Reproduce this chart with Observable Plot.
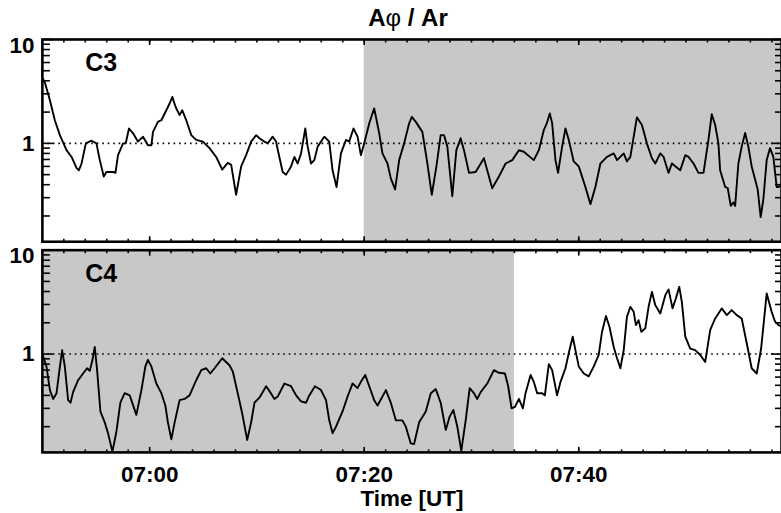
<!DOCTYPE html>
<html>
<head>
<meta charset="utf-8">
<script src="https://cdn.jsdelivr.net/npm/d3@7"></script>
<script src="https://cdn.jsdelivr.net/npm/@observablehq/plot@0.6"></script>
<style>
  html, body { margin: 0; padding: 0; background: #fff; overflow: hidden; }
  #fig { position: relative; width: 781px; height: 513px; font-family: "Liberation Sans", Arial, sans-serif; color: #000; }
  #title { box-sizing: border-box; height: 30px; width: 816px; padding-top: 6px; text-align: center;
           font: bold 24px/24px "Liberation Sans", Arial, sans-serif; white-space: pre; }
  #title .phi { font-weight: normal; }
  #fig svg { display: block; }
</style>
</head>
<body>
<div id="fig">
  <div id="title">A<span class="phi">φ</span> / Ar</div>
</div>
<script>
// Time axis in minutes after 06:00 UT
const timeStart = 50;
const timeEnd = 118.9;

// Panels
const panels = ["C3", "C4"];

// Intervals shaded grey in each panel (minutes after 06:00 UT)
const shadePanel = ["C3", "C4"];
const shadeFrom = [80, timeStart];
const shadeTo = [timeEnd, 94];

// Tick labels
const xTickLabels = ["07:00", "07:20", "07:40"];
const yTickLabels = ["1", "10"];
const yMinorTicks = [0.2, 0.3, 0.4, 0.5, 0.6, 0.7, 0.8, 0.9, 2, 3, 4, 5, 6, 7, 8, 9];

// C3: Aphi / Ar
const c3Time = [50.05, 50.25, 50.70, 51.16, 51.63, 52.25, 52.72, 53.18, 53.40, 53.65, 54.05, 54.58, 55.04, 55.35, 55.72, 55.97, 56.59, 56.81, 57.05, 57.52, 57.77, 58.07, 58.45, 58.91, 59.38, 59.84, 60.16, 60.31, 60.77, 61.09, 61.40, 61.86, 62.11, 62.42, 62.79, 63.04, 63.41, 63.88, 64.34, 64.96, 65.58, 66.20, 66.76, 67.28, 67.60, 68.06, 68.53, 68.99, 69.46, 69.93, 70.23, 70.70, 71.00, 71.47, 71.78, 72.09, 72.40, 72.72, 73.18, 73.49, 73.80, 74.11, 74.51, 74.73, 75.04, 75.35, 75.66, 76.28, 76.74, 77.05, 77.42, 77.83, 78.30, 78.60, 79.00, 79.38, 79.69, 80.00, 80.47, 80.93, 81.40, 81.70, 82.17, 82.48, 82.88, 83.26, 83.72, 84.19, 84.44, 84.81, 85.42, 85.89, 86.30, 86.73, 87.13, 87.44, 87.75, 88.21, 88.59, 88.99, 89.30, 89.77, 90.39, 91.16, 91.93, 92.56, 93.18, 93.80, 94.42, 94.88, 95.81, 96.28, 96.74, 97.02, 97.30, 97.52, 97.83, 98.07, 98.45, 98.76, 99.07, 99.53, 100.00, 100.62, 101.09, 101.55, 102.02, 102.63, 103.26, 103.57, 104.19, 104.49, 104.81, 105.42, 105.89, 106.35, 106.82, 107.13, 107.60, 107.91, 108.37, 108.68, 109.46, 109.93, 110.23, 110.70, 111.16, 111.63, 112.09, 112.40, 112.72, 113.02, 113.18, 113.65, 113.89, 114.17, 114.42, 114.58, 114.88, 115.19, 115.51, 115.81, 116.12, 116.49, 116.68, 116.96, 117.21, 117.52, 117.83, 118.14, 118.45, 118.63, 118.90];
const c3Ratio = [4.2, 3.8, 2.60, 1.67, 1.20, 0.86, 0.74, 0.58, 0.55, 0.64, 1.00, 1.06, 1.00, 0.69, 0.48, 0.53, 0.53, 0.52, 0.77, 1.00, 1.00, 1.39, 1.25, 1.04, 1.16, 0.96, 0.96, 1.29, 1.61, 1.67, 1.94, 2.42, 2.80, 2.24, 1.87, 2.08, 1.67, 1.20, 1.08, 1.04, 0.90, 0.74, 0.56, 0.65, 0.62, 0.32, 0.60, 0.77, 1.04, 1.20, 1.12, 1.04, 1.00, 1.16, 1.04, 0.74, 0.53, 0.50, 0.60, 0.74, 0.64, 0.80, 1.39, 0.93, 0.64, 0.69, 0.93, 1.16, 1.04, 0.55, 0.38, 0.80, 1.08, 1.04, 1.39, 1.16, 0.77, 1.00, 1.56, 2.17, 1.25, 0.80, 0.64, 0.46, 0.36, 0.69, 1.00, 1.56, 1.80, 1.61, 1.29, 0.64, 0.32, 0.60, 1.20, 1.20, 0.93, 0.31, 0.86, 1.12, 0.86, 0.52, 0.53, 0.72, 0.37, 0.48, 0.64, 0.69, 0.86, 0.83, 0.69, 0.86, 1.34, 1.56, 1.94, 1.56, 0.69, 0.52, 0.93, 1.39, 1.08, 0.67, 0.60, 0.38, 0.26, 0.38, 0.64, 0.74, 0.80, 0.69, 0.80, 0.67, 0.74, 1.78, 1.50, 1.00, 0.72, 0.64, 0.80, 0.74, 0.52, 0.64, 0.55, 0.77, 0.74, 0.64, 0.52, 0.52, 1.08, 1.91, 1.50, 1.00, 0.55, 0.38, 0.37, 0.25, 0.27, 0.25, 0.64, 0.93, 1.26, 0.93, 0.60, 0.43, 0.36, 0.195, 0.29, 0.69, 0.90, 0.74, 0.38, 0.38, 0.40];

// C4: Aphi / Ar
const c4Time = [50.00, 50.38, 50.70, 51.00, 51.32, 51.55, 51.84, 52.09, 52.40, 52.62, 52.86, 53.33, 53.79, 54.17, 54.42, 54.67, 54.88, 55.10, 55.41, 55.81, 56.12, 56.53, 56.90, 57.27, 57.67, 58.14, 58.76, 59.23, 59.60, 59.84, 60.16, 60.62, 61.09, 61.46, 61.70, 62.02, 62.33, 62.79, 63.26, 63.72, 64.34, 64.81, 65.27, 65.65, 66.05, 66.76, 67.44, 67.75, 68.21, 68.62, 69.09, 69.46, 69.77, 70.23, 70.86, 71.23, 71.63, 71.94, 72.56, 73.18, 73.65, 74.11, 74.58, 74.88, 75.41, 75.97, 76.44, 76.74, 77.05, 77.37, 77.98, 78.45, 78.91, 79.38, 79.69, 80.09, 80.47, 80.93, 81.24, 81.70, 82.02, 82.48, 82.95, 83.56, 83.88, 84.34, 84.65, 85.12, 85.74, 86.21, 86.67, 87.13, 87.60, 87.97, 88.31, 88.68, 89.05, 89.46, 89.83, 90.23, 90.54, 90.86, 91.47, 92.09, 92.56, 93.12, 93.42, 93.74, 94.05, 94.42, 94.79, 95.04, 95.51, 95.81, 96.12, 96.59, 96.84, 97.21, 97.52, 97.98, 98.30, 98.76, 99.13, 99.44, 99.69, 100.00, 100.47, 100.93, 101.40, 101.86, 102.17, 102.54, 102.86, 103.26, 103.57, 103.88, 104.19, 104.49, 104.81, 105.12, 105.33, 105.58, 105.83, 106.20, 106.51, 106.82, 107.13, 107.60, 108.07, 108.37, 108.74, 109.05, 109.37, 109.61, 109.93, 110.39, 110.86, 111.32, 111.79, 112.25, 112.72, 113.33, 113.80, 114.26, 114.73, 115.19, 115.66, 116.12, 116.59, 117.00, 117.52, 117.98, 118.30, 118.63, 118.90];
const c4Ratio = [1.00, 0.76, 0.45, 0.37, 0.42, 0.65, 1.09, 0.76, 0.36, 0.34, 0.43, 0.56, 0.65, 0.73, 0.69, 0.88, 1.17, 0.70, 0.28, 0.22, 0.173, 0.115, 0.179, 0.34, 0.42, 0.40, 0.26, 0.45, 0.76, 0.88, 0.76, 0.52, 0.42, 0.32, 0.22, 0.151, 0.22, 0.36, 0.37, 0.40, 0.56, 0.70, 0.73, 0.65, 0.73, 0.91, 0.78, 0.68, 0.42, 0.27, 0.149, 0.22, 0.34, 0.38, 0.49, 0.43, 0.37, 0.39, 0.52, 0.49, 0.40, 0.35, 0.34, 0.40, 0.49, 0.45, 0.36, 0.23, 0.173, 0.20, 0.28, 0.39, 0.52, 0.47, 0.54, 0.63, 0.49, 0.36, 0.32, 0.39, 0.45, 0.34, 0.23, 0.23, 0.20, 0.138, 0.136, 0.22, 0.28, 0.42, 0.46, 0.34, 0.186, 0.25, 0.29, 0.20, 0.117, 0.23, 0.47, 0.42, 0.37, 0.43, 0.52, 0.70, 0.66, 0.65, 0.49, 0.30, 0.31, 0.37, 0.30, 0.42, 0.63, 0.54, 0.42, 0.42, 0.40, 0.80, 0.70, 0.40, 0.54, 0.73, 1.09, 1.47, 1.09, 0.76, 0.65, 0.61, 0.76, 0.98, 1.64, 2.32, 1.83, 1.17, 0.91, 0.73, 1.09, 2.28, 2.85, 2.55, 1.90, 2.12, 1.64, 1.77, 2.85, 3.97, 2.96, 2.46, 3.69, 4.19, 2.75, 3.43, 4.44, 3.18, 1.47, 1.13, 1.09, 0.98, 0.84, 1.70, 2.20, 2.75, 2.37, 2.65, 2.37, 2.20, 1.27, 0.73, 0.65, 1.13, 3.83, 2.55, 2.05, 1.90, 1.85];

// Helpers: "HH:MM" <-> minutes after 06:00
const toMinutes = (s) => { const [h, m] = s.split(":").map(Number); return (h - 6) * 60 + m; };
const fmtTime = (m) => { const h = 6 + Math.floor(m / 60), mm = Math.round(m % 60); return `${String(h).padStart(2, "0")}:${String(mm).padStart(2, "0")}`; };

const xMajor = xTickLabels.map(toMinutes);
const xMinor = d3.range(timeStart, timeEnd, 2);
const yMajor = yTickLabels.map(Number);

const rows = [
  ...c3Time.map((t, i) => ({panel: "C3", t, ratio: c3Ratio[i]})),
  ...c4Time.map((t, i) => ({panel: "C4", t, ratio: c4Ratio[i]}))
];
const shade = shadePanel.map((p, i) => ({panel: p, from: shadeFrom[i], to: shadeTo[i]}));

const font = '"Liberation Sans", Arial, sans-serif';
const tickOpts = {fill: "none", stroke: "black", strokeWidth: 1.6, label: null, facetAnchor: null};

// Inward-pointing ticks: an outward tick of length n shifted inward by n
const leftTicks = (values, n) => Plot.axisY(values, {anchor: "left", tickSize: n, dx: n, ...tickOpts});
const rightTicks = (values, n) => Plot.axisY(values, {anchor: "right", tickSize: n, dx: -n, ...tickOpts});
const bottomTicks = (values, n) => Plot.axisX(values, {anchor: "bottom", tickSize: n, dy: -n, ...tickOpts});
const topTicks = (values, n) => Plot.axisX(values, {anchor: "top", tickSize: n, dy: n, ...tickOpts});

const chart = Plot.plot({
  width: 783,
  height: 483,
  marginLeft: 42,
  marginRight: 0,
  marginTop: 9,
  marginBottom: 60,
  style: {fontFamily: font, fontWeight: "bold", fontSize: "22px", color: "black", background: "white", overflow: "visible"},
  x: {domain: [timeStart, timeEnd]},
  y: {type: "log", domain: [0.113, 10]},
  fy: {domain: panels, axis: null, paddingInner: 0.04, paddingOuter: 0, round: false},
  marks: [
    Plot.rect(shade, {x1: "from", x2: "to", fy: "panel", fill: "#c8c8c8"}),
    Plot.ruleY([1], {stroke: "black", strokeWidth: 1.6, strokeDasharray: "1.6,3.9"}),
    Plot.line(rows, {x: "t", y: "ratio", fy: "panel", z: "panel", stroke: "black", strokeWidth: 1.9, strokeLinejoin: "round", clip: true}),
    Plot.frame({stroke: "black", strokeWidth: 2.6}),
    leftTicks(yMajor, 11),
    leftTicks(yMinorTicks, 8),
    rightTicks(yMajor, 11),
    rightTicks(yMinorTicks, 7),
    bottomTicks(xMajor, 5),
    bottomTicks(xMinor, 2.5),
    topTicks(xMajor, 5),
    topTicks(xMinor, 2.5),
    // tick labels
    Plot.axisY([yMajor[0]], {anchor: "left", tickSize: 0, tickPadding: 8, tickFormat: () => yTickLabels[0], fontSize: 22.5, label: null}),
    Plot.axisY([yMajor[1]], {anchor: "left", tickSize: 0, tickPadding: 8, dy: 6, tickFormat: () => yTickLabels[1], fontSize: 22.5, label: null}),
    Plot.axisX(xMajor, {anchor: "bottom", tickSize: 0, tickPadding: 13.4, tickFormat: fmtTime, fontSize: 22.5, label: null}),
    // panel names and time label
    Plot.text(panels, {fy: (d) => d, text: (d) => d, frameAnchor: "top-left", dx: 43, dy: 14, lineAnchor: "top", textAnchor: "start", fontSize: 25}),
    Plot.text(["Time [UT]"], {fy: () => "C4", text: (d) => d, frameAnchor: "bottom", dy: 46.2, lineAnchor: "middle", fontSize: 22.5})
  ]
});

document.getElementById("fig").appendChild(chart);
</script>
</body>
</html>
